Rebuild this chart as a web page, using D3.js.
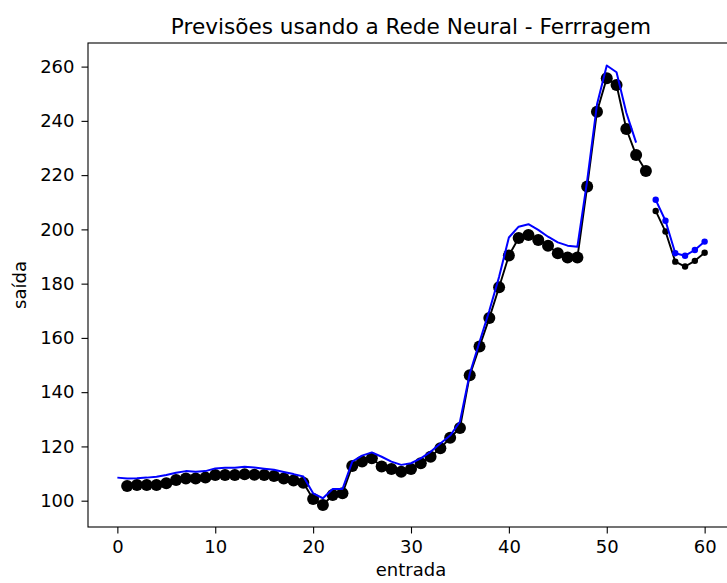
<!DOCTYPE html>
<html>
<head>
<meta charset="utf-8">
<script src="https://cdn.jsdelivr.net/npm/d3@7"></script>
<style>
  html, body { margin: 0; padding: 0; background: #fff; }
  svg { display: block; }
  text { font-family: "DejaVu Sans", sans-serif; fill: #000; }
</style>
</head>
<body>
<svg id="chart" width="727" height="583"></svg>
<script>
// Observed series (training part): input index starts at 1
const trainStart = 1;
const trainActual = [
  105.4, 105.8, 105.8, 105.8, 106.4, 107.6, 108.2, 108.2, 108.5, 109.5,
  109.5, 109.5, 109.7, 109.6, 109.5, 109.1, 108.2, 107.4, 106.6, 100.6,
  98.4, 102.1, 102.7, 112.8, 114.4, 115.6, 112.6, 111.7, 110.7, 111.7,
  113.8, 116.2, 119.3, 123.2, 126.8, 146.2, 156.8, 167.3, 178.7, 190.4,
  196.8, 197.9, 196.1, 194.0, 191.2, 189.6, 189.6, 215.8, 243.4, 255.7,
  253.2, 237.0, 227.4, 221.5
];
// Network output on the training part: index starts at 0
const trainPredStart = 0;
const trainPred = [
  108.5, 108.2, 108.3, 108.5, 108.8, 109.5, 110.3, 110.9, 110.7, 110.9,
  111.9, 112.1, 112.1, 112.5, 112.2, 111.8, 111.4, 110.6, 109.8, 108.9,
  102.7, 100.9, 104.3, 104.3, 114.4, 116.6, 117.8, 116.2, 114.4, 113.2,
  113.8, 115.6, 118.0, 121.1, 124.0, 129.1, 146.8, 158.5, 170.0, 182.5,
  197.0, 201.0, 201.9, 199.8, 197.3, 195.2, 194.0, 193.6, 218.0, 246.0,
  260.4, 257.9, 243.0, 232.0
];
// Test part
const testStart = 55;
const testActual = [206.8, 199.2, 188.1, 186.3, 188.4, 191.4];
const testPred = [210.9, 203.2, 191.2, 190.3, 192.4, 195.5];

const xTicks = [0, 10, 20, 30, 40, 50, 60];
const yTicks = [100, 120, 140, 160, 180, 200, 220, 240, 260];

const titleText = "Previsões usando a Rede Neural - Ferrragem";
const xLabel = "entrada";
const yLabel = "saída";

const toPoints = (arr, start) => arr.map((v, i) => ({ x: start + i, y: v }));

const svg = d3.select("#chart");
const margin = { left: 88, right: 734, top: 43, bottom: 527 };

const x = d3.scaleLinear().domain([-3, 63]).range([margin.left, margin.right]);
const y = d3.scaleLinear().domain([90.3, 268.7]).range([margin.bottom, margin.top]);

svg.append("defs").append("clipPath").attr("id", "plotClip")
  .append("rect")
  .attr("x", margin.left).attr("y", margin.top)
  .attr("width", margin.right - margin.left)
  .attr("height", margin.bottom - margin.top);

const plot = svg.append("g").attr("clip-path", "url(#plotClip)");
const line = d3.line().x(d => x(d.x)).y(d => y(d.y));

function drawSeries(data, color, width, r) {
  plot.append("path")
    .datum(data)
    .attr("fill", "none")
    .attr("stroke", color)
    .attr("stroke-width", width)
    .attr("stroke-linejoin", "round")
    .attr("d", line);
  if (r > 0) {
    plot.append("g").selectAll("circle")
      .data(data)
      .join("circle")
      .attr("cx", d => x(d.x))
      .attr("cy", d => y(d.y))
      .attr("r", r)
      .attr("fill", color);
  }
}

drawSeries(toPoints(trainActual, trainStart), "#000000", 1.9, 6);
drawSeries(toPoints(trainPred, trainPredStart), "#0000ff", 2, 0);
drawSeries(toPoints(testActual, testStart), "#000000", 1.9, 3.2);
drawSeries(toPoints(testPred, testStart), "#0000ff", 2, 3.2);

// Axes frame
const frame = svg.append("g");
frame.append("rect")
  .attr("x", margin.left).attr("y", margin.top)
  .attr("width", margin.right - margin.left)
  .attr("height", margin.bottom - margin.top)
  .attr("fill", "none").attr("stroke", "#000").attr("stroke-width", 1.1);

const xAxis = d3.axisBottom(x).tickValues(xTicks).tickSize(6.5).tickPadding(6.5)
  .tickFormat(d3.format("d"));
const gx = svg.append("g").attr("transform", `translate(0,${margin.bottom})`).call(xAxis);
gx.select(".domain").remove();
gx.selectAll("line").attr("stroke-width", 1.1);
gx.selectAll("text").style("font-size", "18px").style("font-family", "DejaVu Sans");

const yAxis = d3.axisLeft(y).tickValues(yTicks).tickSize(6.5).tickPadding(7)
  .tickFormat(d3.format("d"));
const gy = svg.append("g").attr("transform", `translate(${margin.left},0)`).call(yAxis);
gy.select(".domain").remove();
gy.selectAll("line").attr("stroke-width", 1.1);
gy.selectAll("text").style("font-size", "18px").style("font-family", "DejaVu Sans");

svg.append("text")
  .attr("x", 411).attr("y", 34)
  .attr("text-anchor", "middle")
  .style("font-size", "21.6px")
  .text(titleText);

svg.append("text")
  .attr("x", 411).attr("y", 576)
  .attr("text-anchor", "middle")
  .style("font-size", "18px")
  .text(xLabel);

svg.append("text")
  .attr("transform", "translate(26,285) rotate(-90)")
  .attr("text-anchor", "middle")
  .style("font-size", "18px")
  .text(yLabel);
</script>
</body>
</html>
